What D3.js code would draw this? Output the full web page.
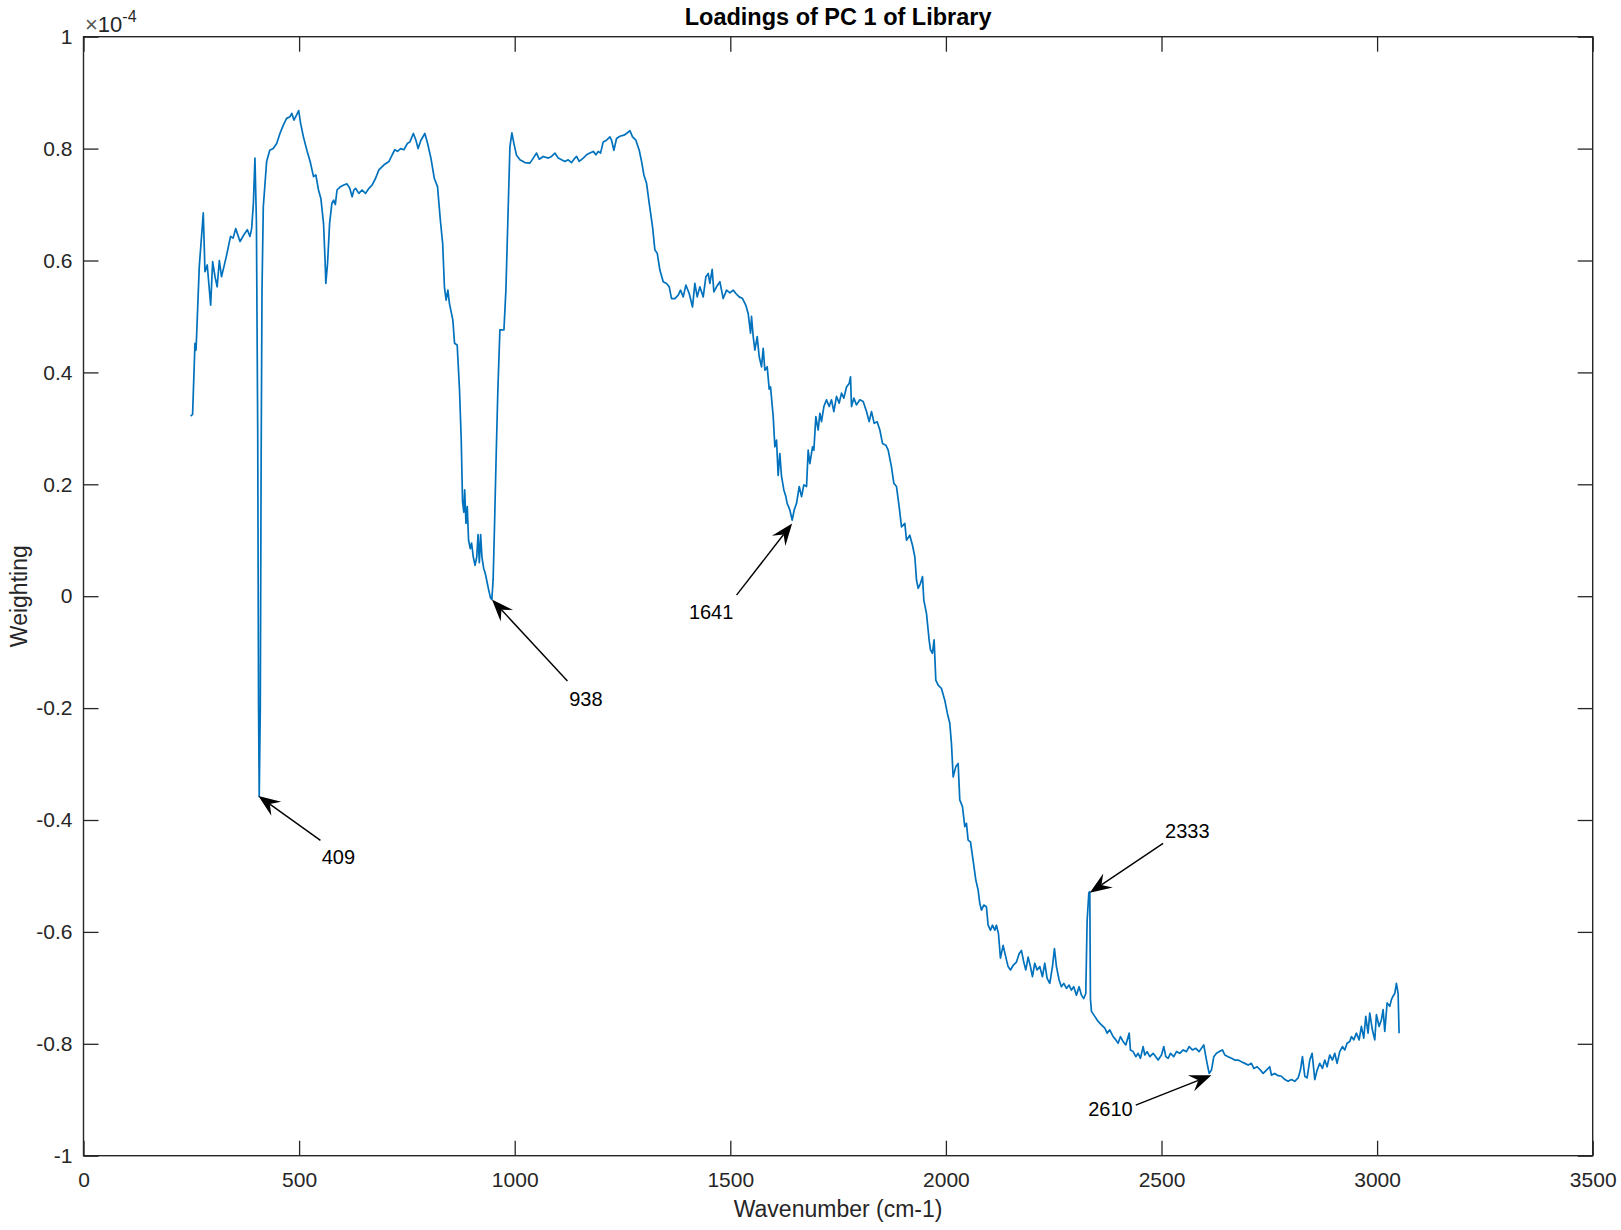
<!DOCTYPE html>
<html>
<head>
<meta charset="utf-8">
<script src="https://cdn.jsdelivr.net/npm/d3@7"></script>
<style>
  html, body { margin: 0; padding: 0; background: #ffffff; }
  svg { display: block; }
  text { font-family: "Liberation Sans", Arial, Helvetica, sans-serif; }
</style>
</head>
<body>
<svg id="chart" width="1621" height="1230"></svg>
<script>
// ---------------- data ----------------
const chartTitle = "Loadings of PC 1 of Library";
const xLabel = "Wavenumber (cm-1)";
const yLabel = "Weighting";
const yExponent = "-4";

const xTicks = [0, 500, 1000, 1500, 2000, 2500, 3000, 3500];
const yTicks = [-1, -0.8, -0.6, -0.4, -0.2, 0, 0.2, 0.4, 0.6, 0.8, 1];

// wavenumber (cm-1)
const wavenumber = [
  248.5, 253, 258.5, 261, 268.5, 277.8, 281.7, 287, 294.9, 299.5,
  305, 310, 315, 320, 326, 332, 341, 347, 353, 363,
  372, 380, 386, 390, 394, 397.6, 401, 404, 406, 407.5,
  410, 412, 414, 417, 424.7, 432, 440, 448, 455.6, 463.4,
  471, 479, 483, 488, 494, 499, 503.5, 510, 518, 525.6,
  533.4, 538.8, 545, 550.5, 556.7, 560.5, 562, 566, 570.7, 576,
  580, 584, 588, 596, 603.5, 611, 617.5, 623, 627, 631,
  638.6, 646, 654, 662, 669.6, 677.4, 685, 697, 708.5, 716,
  722, 728, 735.5, 743, 751, 757, 765, 771, 776, 782.5,
  791.7, 798, 805.7, 813.5, 821, 827.6, 833, 837, 841, 845,
  848.7, 856.5, 860.5, 866.6, 872, 876, 879, 882, 884, 887,
  890, 893, 897, 900, 904, 908, 912, 915, 918, 921,
  924, 928, 932, 936, 940, 944, 947, 950, 953, 957,
  961, 965.7, 975, 979.6, 985, 988.9, 993.5, 998.2, 1004.3, 1012.1,
  1023.7, 1035.3, 1043, 1050.7, 1056.9, 1066.2, 1077.8, 1085.5, 1093.2, 1101,
  1108.7, 1116.4, 1124.1, 1131.9, 1139.6, 1143.5, 1149.6, 1159, 1166.7, 1174.4,
  1182.1, 1188.3, 1193.7, 1199.1, 1205.3, 1213, 1220.8, 1224.6, 1230, 1236.2,
  1244, 1253.2, 1259.4, 1267.1, 1273.3, 1281, 1288.8, 1294.2, 1299.6, 1305.8,
  1312, 1319.7, 1325.1, 1330.5, 1336.7, 1344.4, 1352.1, 1358.3, 1363.7, 1371.5,
  1379.2, 1384.6, 1390.8, 1397, 1404.7, 1412.4, 1417.8, 1423.3, 1429.4, 1437.2,
  1443.4, 1448.8, 1452.6, 1458, 1461.9, 1468.1, 1475.8, 1483.5, 1491.3, 1499,
  1506.7, 1512.9, 1520.6, 1528.4, 1536.1, 1541.5, 1546.9, 1549.2, 1553.1, 1557,
  1562.4, 1567, 1572.4, 1576.3, 1580.2, 1585.6, 1590.2, 1593.3, 1599.5, 1603.3,
  1607.2, 1611, 1614.9, 1618.8, 1624.2, 1628.8, 1631.9, 1638.1, 1643.5, 1648.2,
  1653.6, 1659.8, 1665.2, 1670.6, 1676.8, 1680.6, 1684.5, 1690.7, 1693.8, 1698.4,
  1703.8, 1707.7, 1711.5, 1717, 1723.1, 1729.3, 1734.7, 1740.1, 1746.3, 1752.5,
  1757.9, 1763.3, 1769.5, 1775.7, 1778.8, 1781.1, 1786.5, 1792.7, 1800.4, 1808.1,
  1815.9, 1822, 1827.5, 1833.7, 1840.6, 1846.8, 1853, 1860.7, 1866.1, 1873.8,
  1879.2, 1885.4, 1891.6, 1897, 1904.8, 1908.6, 1916.3, 1922.5, 1928, 1931.8,
  1935.7, 1941.1, 1945.7, 1948.8, 1955, 1961.2, 1964.2, 1968.8, 1972.7, 1976.6,
  1982, 1989.7, 1997.4, 2003.6, 2009, 2012.9, 2016.8, 2022.9, 2028.4, 2032.2,
  2038.4, 2043.8, 2047.7, 2051.5, 2057, 2063.1, 2069.3, 2074.7, 2078.6, 2082.5,
  2087.9, 2094, 2097.9, 2103.3, 2108, 2113.4, 2117.2, 2121.9, 2126.5, 2132.7,
  2138.9, 2144.3, 2149.7, 2155.9, 2163.6, 2169.8, 2175.2, 2180.6, 2185.3, 2190.7,
  2196.1, 2200.7, 2206.1, 2211.5, 2217.7, 2223.9, 2229.3, 2234.7, 2240.9, 2247.1,
  2251.7, 2256.4, 2262.5, 2267.9, 2273.4, 2279.6, 2285.7, 2291.1, 2296.5, 2302.7,
  2308.9, 2314.3, 2319.7, 2324.4, 2327.5, 2331.5, 2333.7, 2335.2, 2337.6, 2345.3,
  2353, 2360.8, 2368.5, 2374, 2380, 2387.9, 2394, 2399.4, 2404.9, 2411,
  2417.2, 2425, 2428, 2434.2, 2440.4, 2445.8, 2451.2, 2457.4, 2461.3, 2466.7,
  2472.9, 2480.6, 2486.8, 2492.2, 2500, 2505.3, 2510, 2515.4, 2520.8, 2528.5,
  2534.7, 2542.4, 2550.2, 2557.9, 2564, 2571.8, 2579.5, 2587.3, 2592.7, 2598,
  2604.3, 2610.5, 2615.9, 2621.3, 2627.5, 2633.6, 2641.4, 2646.8, 2654.5, 2662.2,
  2670, 2677.7, 2685.4, 2693.1, 2700.9, 2708.6, 2714, 2721.7, 2729.5, 2735.7,
  2743.4, 2751, 2755, 2762.7, 2770.4, 2778.2, 2786, 2793.6, 2801.3, 2809,
  2816.8, 2822.2, 2826.9, 2832.3, 2837.7, 2843.9, 2849.3, 2855.5, 2860.9, 2867,
  2873.2, 2878.6, 2884, 2890.2, 2896.4, 2901.8, 2907.2, 2913.4, 2919.6, 2925,
  2930.4, 2936.6, 2940.5, 2945.9, 2952, 2958.3, 2963.6, 2969, 2973.7, 2979,
  2983, 2989, 2994.6, 2998.4, 3004.6, 3010, 3013.9, 3017.8, 3023.2, 3029.4,
  3033.2, 3037, 3041, 3044.8, 3048.7, 3051
];

// PC1 weighting, in units of 1e-4
const weighting = [
  0.322, 0.325, 0.452, 0.44, 0.589, 0.685, 0.58, 0.592, 0.52, 0.598,
  0.571, 0.553, 0.60, 0.571, 0.59, 0.61, 0.643, 0.64, 0.657, 0.634,
  0.646, 0.655, 0.643, 0.657, 0.702, 0.783, 0.67, 0.30, -0.20, -0.358,
  -0.20, 0.25, 0.55, 0.696, 0.777, 0.797, 0.80, 0.809, 0.827, 0.842,
  0.854, 0.857, 0.863, 0.851, 0.86, 0.868, 0.845, 0.821, 0.797, 0.777,
  0.75, 0.753, 0.726, 0.711, 0.666, 0.595, 0.559, 0.595, 0.666, 0.702,
  0.708, 0.70, 0.726, 0.732, 0.735, 0.737, 0.729, 0.714, 0.726, 0.729,
  0.72, 0.726, 0.72, 0.729, 0.735, 0.747, 0.762, 0.771, 0.777, 0.789,
  0.798, 0.795, 0.80, 0.798, 0.809, 0.812, 0.827, 0.815, 0.80, 0.815,
  0.827, 0.809, 0.783, 0.747, 0.732, 0.672, 0.63, 0.553, 0.529, 0.547,
  0.523, 0.494, 0.452, 0.449, 0.369, 0.28, 0.17, 0.15, 0.19, 0.13,
  0.16, 0.10, 0.085, 0.095, 0.07, 0.055, 0.07, 0.11, 0.06, 0.11,
  0.07, 0.05, 0.04, 0.025, 0.01, -0.003, -0.006, 0.03, 0.12, 0.25,
  0.37, 0.476, 0.476, 0.547, 0.696, 0.803, 0.828, 0.809, 0.788, 0.78,
  0.775, 0.774, 0.783, 0.792, 0.781, 0.786, 0.783, 0.786, 0.792, 0.783,
  0.78, 0.777, 0.78, 0.775, 0.783, 0.786, 0.777, 0.783, 0.789, 0.792,
  0.795, 0.789, 0.795, 0.792, 0.812, 0.815, 0.821, 0.815, 0.797, 0.818,
  0.822, 0.824, 0.827, 0.832, 0.821, 0.815, 0.797, 0.777, 0.753, 0.738,
  0.702, 0.66, 0.619, 0.613, 0.583, 0.562, 0.559, 0.553, 0.532, 0.532,
  0.538, 0.547, 0.535, 0.556, 0.541, 0.517, 0.559, 0.535, 0.553, 0.535,
  0.571, 0.577, 0.559, 0.584, 0.544, 0.553, 0.562, 0.532, 0.547, 0.542,
  0.547, 0.541, 0.535, 0.532, 0.52, 0.505, 0.47, 0.50, 0.464, 0.44,
  0.464, 0.428, 0.41, 0.443, 0.404, 0.41, 0.37, 0.374, 0.321, 0.267,
  0.279, 0.216, 0.255, 0.214, 0.19, 0.178, 0.166, 0.154, 0.136, 0.154,
  0.166, 0.196, 0.178, 0.199, 0.196, 0.261, 0.237, 0.267, 0.261, 0.321,
  0.297, 0.327, 0.312, 0.339, 0.351, 0.339, 0.351, 0.33, 0.357, 0.345,
  0.363, 0.354, 0.374, 0.38, 0.392, 0.339, 0.354, 0.342, 0.351, 0.348,
  0.33, 0.312, 0.33, 0.309, 0.312, 0.297, 0.273, 0.27, 0.261, 0.231,
  0.202, 0.196, 0.16, 0.124, 0.13, 0.10, 0.109, 0.091, 0.07, 0.029,
  0.014, 0.023, 0.035, -0.007, -0.031, -0.079, -0.096, -0.102, -0.078, -0.15,
  -0.159, -0.165, -0.186, -0.21, -0.227, -0.263, -0.323, -0.305, -0.299, -0.364,
  -0.376, -0.412, -0.406, -0.436, -0.439, -0.472, -0.507, -0.525, -0.549, -0.561,
  -0.552, -0.555, -0.588, -0.597, -0.588, -0.597, -0.588, -0.603, -0.647, -0.624,
  -0.645, -0.662, -0.668, -0.66, -0.654, -0.639, -0.633, -0.654, -0.668, -0.645,
  -0.662, -0.68, -0.656, -0.668, -0.662, -0.68, -0.656, -0.683, -0.692, -0.662,
  -0.63, -0.662, -0.686, -0.698, -0.692, -0.701, -0.695, -0.704, -0.698, -0.713,
  -0.698, -0.713, -0.719, -0.71, -0.58, -0.53, -0.528, -0.72, -0.742, -0.751,
  -0.76, -0.766, -0.772, -0.781, -0.775, -0.787, -0.793, -0.799, -0.787, -0.796,
  -0.802, -0.781, -0.811, -0.814, -0.823, -0.817, -0.826, -0.805, -0.82, -0.814,
  -0.823, -0.817, -0.823, -0.829, -0.82, -0.805, -0.823, -0.826, -0.817, -0.823,
  -0.814, -0.817, -0.811, -0.814, -0.805, -0.811, -0.808, -0.814, -0.808, -0.802,
  -0.829, -0.853, -0.847, -0.823, -0.817, -0.814, -0.811, -0.82, -0.823, -0.826,
  -0.829, -0.829, -0.832, -0.835, -0.838, -0.835, -0.844, -0.841, -0.847, -0.853,
  -0.847, -0.841, -0.856, -0.853, -0.857, -0.858, -0.864, -0.867, -0.864, -0.867,
  -0.861, -0.847, -0.823, -0.858, -0.861, -0.829, -0.817, -0.864, -0.847, -0.835,
  -0.844, -0.829, -0.841, -0.82, -0.829, -0.817, -0.835, -0.814, -0.805, -0.811,
  -0.799, -0.796, -0.787, -0.793, -0.781, -0.793, -0.769, -0.79, -0.751, -0.781,
  -0.745, -0.775, -0.793, -0.748, -0.769, -0.757, -0.739, -0.778, -0.727, -0.733,
  -0.721, -0.715, -0.71, -0.692, -0.71, -0.781
];

// annotated peaks: label text, wavenumber and weighting of the arrow tip
const peakLabels = ["409", "938", "1641", "2333", "2610"];
const peakWavenumber = [405.7, 947.2, 1643.4, 2333.7, 2615.8];
const peakWeighting = [-0.357, -0.006, 0.130, -0.53, -0.856];

// ---------------- layout ----------------
const W = 1621, H = 1230;
const margin = { left: 83.5, right: W - 1592.7, top: 36.7, bottom: H - 1155.7 };
const innerW = W - margin.left - margin.right;
const innerH = H - margin.top - margin.bottom;

const axisColor = "#262626";
const lineColor = "#0072BD";
const tickFont = 21;

const svg = d3.select("#chart");
svg.append("rect").attr("width", W).attr("height", H).attr("fill", "#ffffff");

const g = svg.append("g").attr("transform", `translate(${margin.left},${margin.top})`);

const x = d3.scaleLinear().domain([0, 3500]).range([0, innerW]);
const y = d3.scaleLinear().domain([-1, 1]).range([innerH, 0]);

const tickLen = 15;
const yFmt = d => (d === 0 ? "0" : String(+d.toFixed(1)));

// bottom axis
const gx = g.append("g").attr("transform", `translate(0,${innerH})`)
  .call(d3.axisBottom(x).tickValues(xTicks).tickFormat(d3.format("d"))
    .tickSizeInner(-tickLen).tickSizeOuter(0).tickPadding(16.5));
// top axis (ticks only)
const gxt = g.append("g")
  .call(d3.axisTop(x).tickValues(xTicks).tickFormat("")
    .tickSizeInner(-tickLen).tickSizeOuter(0));
// left axis
const gy = g.append("g")
  .call(d3.axisLeft(y).tickValues(yTicks).tickFormat(yFmt)
    .tickSizeInner(-tickLen).tickSizeOuter(0).tickPadding(11));
// right axis (ticks only)
const gyr = g.append("g").attr("transform", `translate(${innerW},0)`)
  .call(d3.axisRight(y).tickValues(yTicks).tickFormat("")
    .tickSizeInner(-tickLen).tickSizeOuter(0));

[gx, gxt, gy, gyr].forEach(a => {
  a.select(".domain").remove();
  a.selectAll(".tick line").attr("stroke", axisColor).attr("stroke-width", 1.3);
  a.selectAll(".tick text")
    .attr("fill", axisColor)
    .style("font-size", tickFont + "px")
    .style("font-family", '"Liberation Sans", Arial, sans-serif');
});

// box
g.append("rect")
  .attr("x", 0).attr("y", 0).attr("width", innerW).attr("height", innerH)
  .attr("fill", "none").attr("stroke", axisColor).attr("stroke-width", 1.4);

// exponent label
const expText = g.append("text")
  .attr("x", 1.5).attr("y", -5)
  .attr("fill", axisColor)
  .style("font-size", "22px");
expText.append("tspan").style("fill", "#555").text("\u00D7");
expText.append("tspan").text("10");
expText.append("tspan").attr("dy", -10).style("font-size", "16px").text(yExponent);

// spectrum line
const pts = d3.zip(wavenumber, weighting);
const line = d3.line().x(d => x(d[0])).y(d => y(d[1]));
g.append("path")
  .datum(pts)
  .attr("d", line)
  .attr("fill", "none")
  .attr("stroke", lineColor)
  .attr("stroke-width", 1.7)
  .attr("stroke-linejoin", "round");

// annotations (arrow tail / text offsets in px relative to the tip)
const tailOffset = [[62, 44.5], [75.5, 81.4], [-55.6, 71.7], [73.3, -49.4], [-75.7, 30]];
const textOffset = [[80, 68], [94, 106], [-81, 95.5], [97.5, -54.5], [-101, 40.5]];

function drawArrow(x1, y1, x2, y2) {
  const ang = Math.atan2(y2 - y1, x2 - x1);
  const L = 22, Wd = 8.5, notch = 14;
  const ux = Math.cos(ang), uy = Math.sin(ang);
  const px = -uy, py = ux;
  const bx = x2 - ux * L, by = y2 - uy * L;
  const nx = x2 - ux * notch, ny = y2 - uy * notch;
  g.append("line")
    .attr("x1", x1).attr("y1", y1).attr("x2", nx).attr("y2", ny)
    .attr("stroke", "#000").attr("stroke-width", 1.4);
  const path = d3.path();
  path.moveTo(x2, y2);
  path.lineTo(bx + px * Wd, by + py * Wd);
  path.lineTo(nx, ny);
  path.lineTo(bx - px * Wd, by - py * Wd);
  path.closePath();
  g.append("path").attr("d", path.toString()).attr("fill", "#000");
}

peakLabels.forEach((lab, i) => {
  const tx = x(peakWavenumber[i]), ty = y(peakWeighting[i]);
  drawArrow(tx + tailOffset[i][0], ty + tailOffset[i][1], tx, ty);
  g.append("text")
    .attr("x", tx + textOffset[i][0]).attr("y", ty + textOffset[i][1])
    .attr("text-anchor", "middle")
    .attr("fill", "#000")
    .style("font-size", "20px")
    .text(lab);
});

// title and axis labels
svg.append("text")
  .attr("x", margin.left + innerW / 2).attr("y", 25)
  .attr("text-anchor", "middle")
  .attr("fill", "#000")
  .style("font-size", "23.5px").style("font-weight", "bold")
  .text(chartTitle);

svg.append("text")
  .attr("x", margin.left + innerW / 2).attr("y", 1217)
  .attr("text-anchor", "middle")
  .attr("fill", axisColor)
  .style("font-size", "23px")
  .text(xLabel);

svg.append("text")
  .attr("transform", `translate(27,${margin.top + innerH / 2}) rotate(-90)`)
  .attr("text-anchor", "middle")
  .attr("fill", axisColor)
  .style("font-size", "23px")
  .text(yLabel);
</script>
</body>
</html>
